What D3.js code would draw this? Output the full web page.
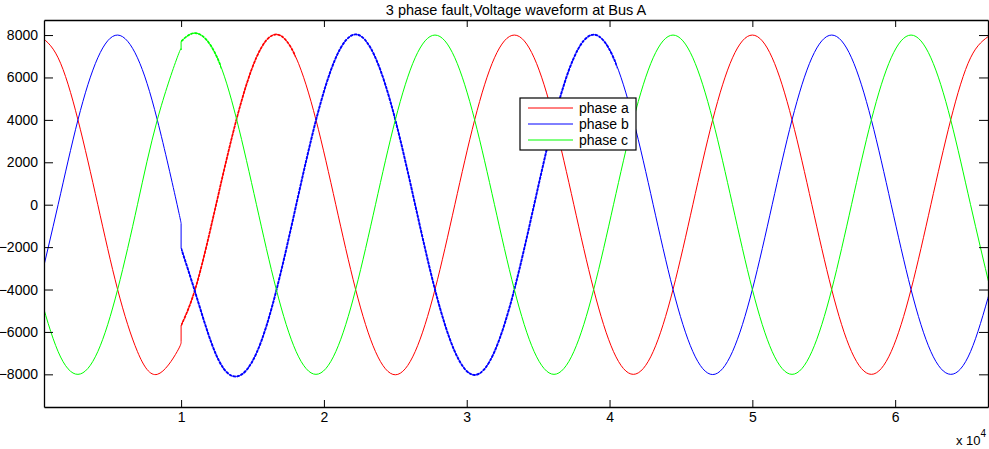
<!DOCTYPE html>
<html>
<head>
<meta charset="utf-8">
<script src="https://cdn.jsdelivr.net/npm/d3@7"></script>
<style>
  body { margin: 0; background: #fff; }
  svg { display: block; font-family: "Liberation Sans", Arial, sans-serif; }
</style>
</head>
<body>
<div id="chart"></div>
<script>
// samples (time index), before and after the fault at 1e4
var preTime = [0, 1389, 2778, 4167, 5556, 6944, 8333, 9722, 10000];
var postTime = [10000, 11111, 12500, 13889, 15278, 16667, 18056, 19444, 20833, 22222, 23611,
  25000, 26389, 27778, 29167, 30556, 31944, 33333, 34722, 36111, 37500, 38889, 40278, 41667,
  43056, 44444, 45833, 47222, 48611, 50000, 51389, 52778, 54167, 55556, 56944, 58333, 59722,
  61111, 62500, 63889, 65278, 66667];

var phaseAPre = [8000, 6928, 4000, 0, -4000, -6928, -8000, -6928, -6450];
var phaseBPre = [-4000, 0, 4000, 6928, 8000, 6928, 4000, 0, -900];
var phaseCPre = [-4000, -6928, -8000, -6928, -4000, 0, 4000, 6928, 7300];

var phaseAPost = [-5700, -3700, 150, 4050, 6950, 8030, 6928, 4000, 0, -4000, -6928, -8020, -6928,
  -4000, 0, 4000, 6928, 8000, 6928, 4000, 0, -4000, -6928, -8000, -6928, -4000, 0, 4000, 6928,
  8000, 6928, 4000, 0, -4000, -6928, -8000, -6928, -4000, 0, 4000, 6928, 8000];
var phaseBPost = [-2050, -4400, -7150, -8100, -7000, -4050, -20, 3980, 6928, 8030, 6928, 4000, 0,
  -4000, -6928, -8030, -6928, -4000, 0, 4000, 6928, 8020, 6928, 4000, 0, -4000, -6928, -8010,
  -6928, -4000, 0, 4000, 6928, 8000, 6928, 4000, 0, -4000, -6928, -8000, -6928, -4000];
var phaseCPost = [7700, 8080, 6980, 4020, 0, -4000, -6928, -8000, -6928, -4000, 0, 4000, 6928,
  8000, 6928, 4000, 0, -4000, -6928, -8000, -6928, -4000, 0, 4000, 6928, 8000, 6928, 4000, 0,
  -4000, -6928, -8000, -6928, -4000, 0, 4000, 6928, 8000, 6928, 4000, 0, -4000];

// where the post-fault ripple dies out, per phase
var noisyEnd = [18000, 40500, 12800];

var xTicks = [10000, 20000, 30000, 40000, 50000, 60000];
var yTicks = [-8000, -6000, -4000, -2000, 0, 2000, 4000, 6000, 8000];
var phaseNames = ["phase a", "phase b", "phase c"];
var phaseColors = ["#ff0000", "#0000ff", "#00ff00"];

var width = 989, height = 449;
var margin = {left: 44, right: 1, top: 20, bottom: 42};

var svg = d3.select("#chart").append("svg")
  .attr("width", width)
  .attr("height", height);

var x = d3.scaleLinear().domain([400, 66500]).range([margin.left, width - margin.right]);
var y = d3.scaleLinear().domain([-9540, 8710]).range([height - margin.bottom, margin.top]);

svg.append("clipPath").attr("id", "plot")
  .append("rect")
  .attr("x", margin.left).attr("y", margin.top)
  .attr("width", width - margin.left - margin.right)
  .attr("height", height - margin.top - margin.bottom);

var line = d3.line()
  .x(d => x(d[0]))
  .y(d => y(d[1]))
  .curve(d3.curveNatural);

var pre = [phaseAPre, phaseBPre, phaseCPre];
var post = [phaseAPost, phaseBPost, phaseCPost];

var curves = svg.append("g").attr("clip-path", "url(#plot)");

pre.forEach(function(vals, i) {
  var pts = preTime.map((t, j) => [t, vals[j]]);
  curves.append("path")
    .attr("d", line(pts))
    .attr("fill", "none")
    .attr("stroke", phaseColors[i])
    .attr("stroke-width", 1);
});

post.forEach(function(vals, i) {
  var pts = postTime.map((t, j) => [t, vals[j]]);
  curves.append("path")
    .attr("d", line(pts))
    .attr("fill", "none")
    .attr("stroke", phaseColors[i])
    .attr("stroke-width", 1);

  // thicker stroke over the rippled stretch after the fault
  var clipId = "noise" + i;
  svg.append("clipPath").attr("id", clipId)
    .append("rect")
    .attr("x", x(postTime[0]))
    .attr("y", margin.top)
    .attr("width", x(noisyEnd[i]) - x(postTime[0]))
    .attr("height", height - margin.top - margin.bottom);
  curves.append("g").attr("clip-path", "url(#" + clipId + ")")
    .append("path")
    .attr("d", line(pts))
    .attr("fill", "none")
    .attr("stroke", phaseColors[i])
    .attr("stroke-width", i == 1 ? 1.9 : 1.7)
    .attr("stroke-dasharray", "3,1");
});

// vertical jump at the fault instant
pre.forEach(function(vals, i) {
  curves.append("line")
    .attr("x1", x(preTime[preTime.length - 1]))
    .attr("x2", x(postTime[0]))
    .attr("y1", y(vals[vals.length - 1]))
    .attr("y2", y(post[i][0]))
    .attr("stroke", phaseColors[i])
    .attr("stroke-width", 1);
});

// axes, matlab style box with inward ticks
function styleAxis(g) {
  g.selectAll("path.domain").attr("stroke", "#000").attr("stroke-width", 1.3);
  g.selectAll(".tick line").attr("stroke", "#000");
  g.selectAll("text").attr("fill", "#000").style("font-size", "14px")
    .style("font-family", "'Liberation Sans', Arial, sans-serif");
}

svg.append("g")
  .attr("transform", "translate(0," + (height - margin.bottom) + ")")
  .call(d3.axisBottom(x).tickValues(xTicks).tickSizeInner(-7).tickSizeOuter(0).tickPadding(5)
    .tickFormat(d => d / 10000))
  .call(styleAxis);

svg.append("g")
  .attr("transform", "translate(0," + margin.top + ")")
  .call(d3.axisTop(x).tickValues(xTicks).tickSizeInner(-7).tickSizeOuter(0).tickFormat(""))
  .call(styleAxis);

svg.append("g")
  .attr("transform", "translate(" + margin.left + ",0)")
  .call(d3.axisLeft(y).tickValues(yTicks).tickSizeInner(-9).tickSizeOuter(0).tickPadding(6)
    .tickFormat(d3.format("d")))
  .call(styleAxis);

svg.append("g")
  .attr("transform", "translate(" + (width - margin.right) + ",0)")
  .call(d3.axisRight(y).tickValues(yTicks).tickSizeInner(-9).tickSizeOuter(0).tickFormat(""))
  .call(styleAxis);

// exponent label
var expo = svg.append("text")
  .attr("x", 956)
  .attr("y", 445)
  .style("font-size", "13px")
  .attr("fill", "#000");
expo.append("tspan").text("x 10");
expo.append("tspan").attr("dy", -8).style("font-size", "10px").text("4");

// title
svg.append("text")
  .attr("x", (margin.left + width - margin.right) / 2)
  .attr("y", 15)
  .attr("text-anchor", "middle")
  .style("font-size", "14.5px")
  .attr("fill", "#000")
  .text("3 phase fault,Voltage waveform at Bus A");

// legend
var legend = svg.append("g").attr("transform", "translate(520,98)");
legend.append("rect")
  .attr("width", 116).attr("height", 52)
  .attr("fill", "#fff").attr("stroke", "#000").attr("stroke-width", 1.2);

legend.selectAll("g.item")
  .data(phaseNames)
  .enter()
  .append("g")
  .attr("class", "item")
  .attr("transform", (d, i) => "translate(0," + (10 + i * 16) + ")")
  .each(function(d, i) {
    var g = d3.select(this);
    g.append("line")
      .attr("x1", 8).attr("x2", 53)
      .attr("stroke", phaseColors[i]).attr("stroke-width", 1);
    g.append("text")
      .attr("x", 59).attr("dy", "0.35em")
      .style("font-size", "14px").attr("fill", "#000")
      .text(d);
  });
</script>
</body>
</html>
